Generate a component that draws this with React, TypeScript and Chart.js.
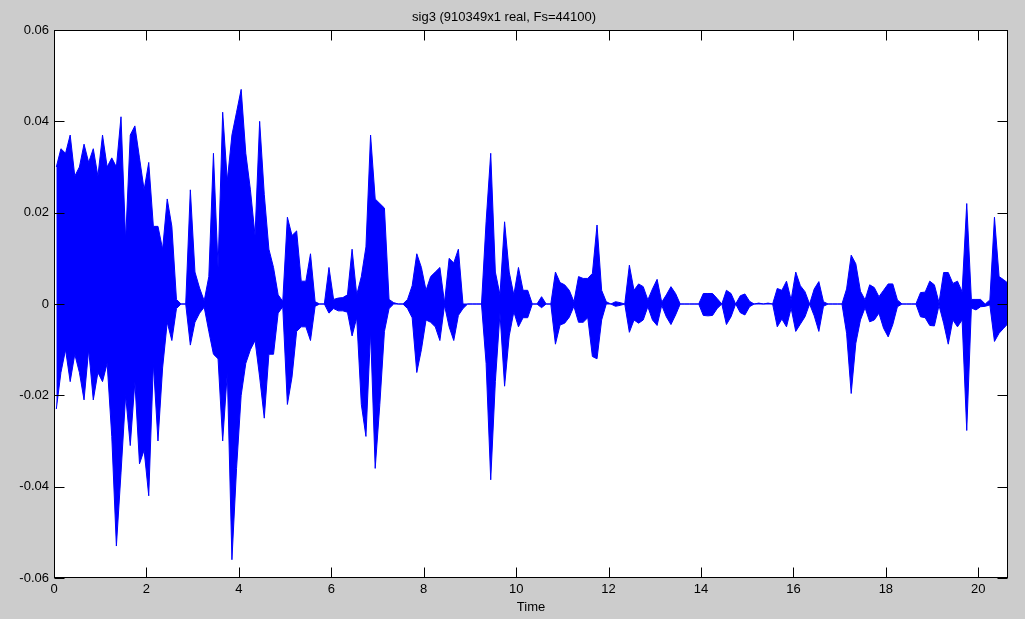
import React, { useEffect, useRef } from "react";
import { Chart, registerables } from "chart.js";

Chart.register(...registerables);

const TITLE = "sig3 (910349x1 real, Fs=44100)";
const X_LABEL = "Time";
const SAMPLE_COUNT = 910349;
const SAMPLE_RATE = 44100;
const DURATION = SAMPLE_COUNT / SAMPLE_RATE;
const BUCKET_SECONDS = 0.1;

const xTickValues = [0, 2, 4, 6, 8, 10, 12, 14, 16, 18, 20];
const xTickLabels = ["0", "2", "4", "6", "8", "10", "12", "14", "16", "18", "20"];
const yTickValues = [-0.06, -0.04, -0.02, 0, 0.02, 0.04, 0.06];
const yTickLabels = ["-0.06", "-0.04", "-0.02", "0", "0.02", "0.04", "0.06"];

// Peak (max) value of the signal in each 0.1 s bucket
const peakHigh = [
  0.030, 0.034, 0.033, 0.037, 0.028, 0.030, 0.035, 0.031, 0.034, 0.028,
  0.037, 0.030, 0.032, 0.030, 0.041, 0.014, 0.037, 0.039, 0.032, 0.025,
  0.031, 0.017, 0.017, 0.012, 0.023, 0.017, 0.001, 0, 0, 0.025,
  0.007, 0.0035, 0.0007, 0.006, 0.033, 0.008, 0.042, 0.027, 0.037, 0.042,
  0.047, 0.033, 0.025, 0.015, 0.040, 0.024, 0.012, 0.008, 0.002, 0.0006,
  0.019, 0.015, 0.016, 0.005, 0.005, 0.011, 0.0005, 0, 0, 0.008,
  0.001, 0.0013, 0.0014, 0.002, 0.012, 0.002, 0.006, 0.0125, 0.037, 0.023,
  0.022, 0.021, 0.001, 0.0003, 0, 0, 0.001, 0.004, 0.011, 0.008,
  0.003, 0.006, 0.007, 0.008, 0.0003, 0.010, 0.009, 0.012, 0, 0,
  0, 0, 0, 0.018, 0.033, 0.007, 0.002, 0.018, 0.007, 0.002,
  0.008, 0.003, 0.003, 0, 0, 0.0016, 0, 0, 0.007, 0.0047,
  0.0042, 0.003, 0.0005, 0.006, 0.0056, 0.0056, 0.0067, 0.0173, 0.003, 0.0005,
  0, 0.0005, 0.0003, 0, 0.0085, 0.003, 0.0044, 0.0038, 0.0009, 0.0033,
  0.0054, 0.0004, 0.002, 0.0038, 0.0023, 0, 0, 0, 0, 0,
  0.0023, 0.0023, 0.0023, 0.0012, 0, 0.003, 0.0023, 0, 0.0018, 0.0022,
  0.0006, 0, 0.0002, 0, 0.0002, 0, 0.0034, 0.003, 0.005, 0.0009,
  0.007, 0.004, 0.0027, 0, 0.0033, 0.0049, 0.0005, 0, 0, 0,
  0, 0.0033, 0.0107, 0.0088, 0.0028, 0.0009, 0.0042, 0.0036, 0.0016, 0.003,
  0.0044, 0.0044, 0.0009, 0, 0, 0, 0, 0.0025, 0.0026, 0.005,
  0.0042, 0.0003, 0.0069, 0.0069, 0.0045, 0.005, 0.0027, 0.022, 0.001, 0.001,
  0.001, 0, 0.0009, 0.019, 0.006, 0.0053, 0.0045,
];

// Trough (min) value of the signal in each 0.1 s bucket
const peakLow = [
  -0.023, -0.015, -0.010, -0.017, -0.011, -0.015, -0.021, -0.010, -0.021, -0.015,
  -0.017, -0.013, -0.029, -0.053, -0.037, -0.020, -0.031, -0.017, -0.035, -0.032,
  -0.042, -0.013, -0.030, -0.014, -0.004, -0.008, -0.001, 0, 0, -0.009,
  -0.004, -0.002, -0.0007, -0.006, -0.011, -0.012, -0.030, -0.015, -0.056, -0.036,
  -0.020, -0.013, -0.010, -0.008, -0.016, -0.025, -0.011, -0.011, -0.002, -0.0006,
  -0.022, -0.016, -0.006, -0.005, -0.005, -0.008, -0.0005, 0, 0, -0.002,
  -0.001, -0.0015, -0.0015, -0.0018, -0.007, -0.003, -0.022, -0.029, -0.006, -0.036,
  -0.022, -0.006, -0.001, 0, 0, 0, -0.001, -0.003, -0.015, -0.010,
  -0.0035, -0.004, -0.005, -0.008, -0.0003, -0.005, -0.008, -0.0025, -0.001, 0,
  0, 0, 0, -0.013, -0.0385, -0.017, -0.002, -0.018, -0.007, -0.0017,
  -0.005, -0.003, -0.003, 0, 0, -0.0008, 0, 0, -0.0088, -0.0046,
  -0.0042, -0.0029, -0.0005, -0.004, -0.004, -0.003, -0.0115, -0.012, -0.0035, 0,
  0, -0.0005, -0.0003, 0, -0.0062, -0.0035, -0.0042, -0.0035, -0.0006, -0.0035,
  -0.0047, -0.0003, -0.0028, -0.0045, -0.0024, 0, 0, 0, 0, 0,
  -0.0025, -0.0026, -0.0025, -0.001, 0, -0.0045, -0.0028, 0, -0.0019, -0.0024,
  -0.0006, 0, 0, 0, 0, 0, -0.005, -0.0033, -0.005, -0.0009,
  -0.006, -0.0044, -0.0028, 0, -0.0026, -0.006, -0.0005, 0, 0, 0,
  0, -0.0064, -0.0196, -0.0086, -0.0035, -0.0008, -0.0039, -0.0035, -0.002, -0.0053,
  -0.0072, -0.0045, -0.0006, 0, 0, 0, 0, -0.0028, -0.003, -0.0047,
  -0.0048, -0.0003, -0.0042, -0.0088, -0.0035, -0.005, -0.0035, -0.0277, -0.0009, -0.0013,
  -0.0006, -0.0005, -0.0002, -0.0082, -0.0064, -0.0053, -0.0042,
];

const FIG_BG = "#cccccc";
const WAVE_COLOR = "#0000ff";
const FONT_FAMILY = "'Liberation Sans', Arial, sans-serif";

const framePlugin = {
  id: "matlabFrame",
  beforeDraw(chart: any) {
    const { ctx, chartArea } = chart;
    ctx.save();
    ctx.fillStyle = FIG_BG;
    ctx.fillRect(0, 0, chart.width, chart.height);
    ctx.fillStyle = "#ffffff";
    ctx.fillRect(chartArea.left, chartArea.top, chartArea.right - chartArea.left, chartArea.bottom - chartArea.top);
    ctx.restore();
  },
  afterDatasetsDraw(chart: any) {
    const { ctx, chartArea } = chart;
    const { x, y } = chart.scales;
    const L = Math.round(chartArea.left) + 0.5;
    const R = Math.round(chartArea.right) - 0.5;
    const T = Math.round(chartArea.top) + 0.5;
    const B = Math.round(chartArea.bottom) - 0.5;
    const len = 10;
    ctx.save();
    ctx.strokeStyle = "#000000";
    ctx.lineWidth = 1;
    ctx.beginPath();
    xTickValues.forEach((v) => {
      const px = Math.round(x.getPixelForValue(v)) + 0.5;
      ctx.moveTo(px, B);
      ctx.lineTo(px, B - len);
      ctx.moveTo(px, T);
      ctx.lineTo(px, T + len);
    });
    yTickValues.forEach((v) => {
      const py = Math.round(y.getPixelForValue(v)) + 0.5;
      ctx.moveTo(L, py);
      ctx.lineTo(L + len, py);
      ctx.moveTo(R, py);
      ctx.lineTo(R - len, py);
    });
    ctx.stroke();
    ctx.strokeRect(L, T, R - L, B - T);
    ctx.restore();
  },
};

export default function App() {
  const ref = useRef<HTMLCanvasElement>(null);

  useEffect(() => {
    const canvas = ref.current;
    if (!canvas) return;
    Chart.defaults.font.family = FONT_FAMILY;
    Chart.defaults.color = "#000000";

    const upper = peakHigh.map((v, i) => ({ x: (i + 0.5) * BUCKET_SECONDS, y: v }));
    const lower = peakLow.map((v, i) => ({ x: (i + 0.5) * BUCKET_SECONDS, y: v }));

    const tickFont = { family: FONT_FAMILY, size: 13 };

    const chart = new Chart(canvas, {
      type: "line",
      data: {
        datasets: [
          {
            data: upper,
            borderColor: WAVE_COLOR,
            backgroundColor: WAVE_COLOR,
            borderWidth: 1,
            pointRadius: 0,
            tension: 0,
            fill: "+1",
          },
          {
            data: lower,
            borderColor: WAVE_COLOR,
            backgroundColor: WAVE_COLOR,
            borderWidth: 1,
            pointRadius: 0,
            tension: 0,
            fill: false,
          },
        ],
      },
      options: {
        animation: false,
        responsive: false,
        devicePixelRatio: 1,
        parsing: false,
        normalized: true,
        layout: { padding: { left: 0, right: 17, top: 0, bottom: 0 } },
        plugins: {
          legend: { display: false },
          tooltip: { enabled: false },
          title: {
            display: true,
            text: TITLE,
            color: "#000000",
            font: { family: FONT_FAMILY, size: 13, weight: "normal" },
            padding: { top: 9.7, bottom: 4.7 },
          },
        },
        scales: {
          x: {
            type: "linear",
            min: 0,
            max: DURATION,
            afterBuildTicks: (s: any) => {
              s.ticks = xTickValues.map((v) => ({ value: v }));
            },
            afterFit: (s: any) => {
              s.height = 41;
            },
            grid: { display: false, drawTicks: false },
            border: { display: false },
            ticks: {
              padding: 4,
              color: "#000000",
              font: tickFont,
              maxRotation: 0,
              autoSkip: false,
              callback: (_v: any, i: number) => xTickLabels[i],
            },
            title: {
              display: true,
              text: X_LABEL,
              color: "#000000",
              font: tickFont,
              padding: { top: 0, bottom: 4 },
            },
          },
          y: {
            type: "linear",
            min: -0.06,
            max: 0.06,
            afterBuildTicks: (s: any) => {
              s.ticks = yTickValues.map((v) => ({ value: v }));
            },
            afterFit: (s: any) => {
              s.width = 54;
            },
            grid: { display: false, drawTicks: false },
            border: { display: false },
            ticks: {
              padding: 5,
              color: "#000000",
              font: tickFont,
              autoSkip: false,
              callback: (_v: any, i: number) => yTickLabels[i],
            },
          },
        },
      } as any,
      plugins: [framePlugin],
    });

    return () => chart.destroy();
  }, []);

  return (
    <div style={{ position: "fixed", left: 0, top: 0, width: 1025, height: 619, background: FIG_BG }}>
      <canvas ref={ref} width={1025} height={619} style={{ display: "block", width: 1025, height: 619 }} />
    </div>
  );
}
